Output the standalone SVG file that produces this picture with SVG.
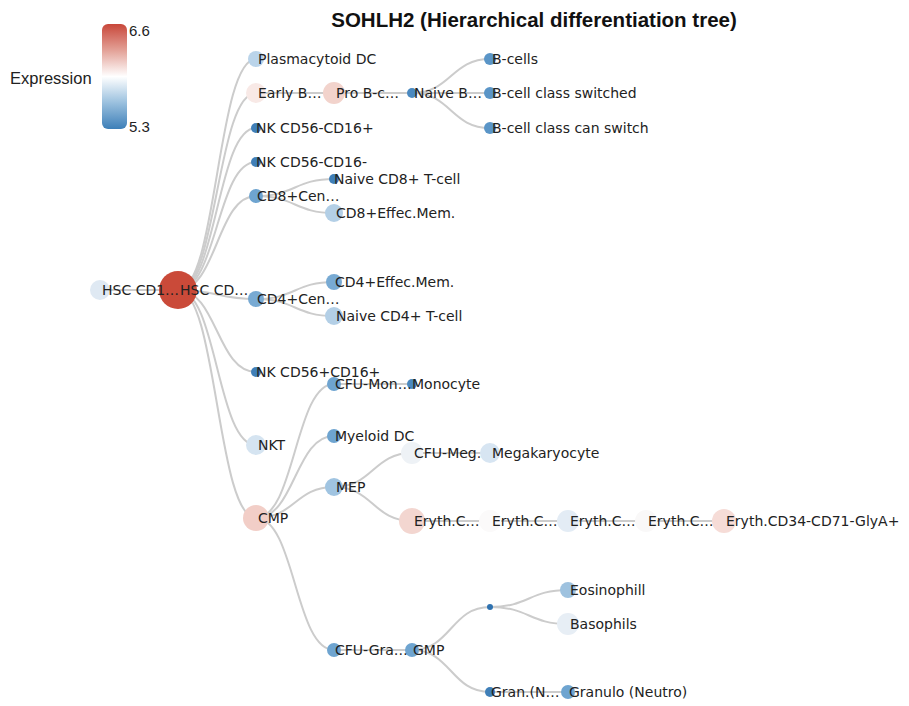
<svg xmlns="http://www.w3.org/2000/svg" width="909" height="706" viewBox="0 0 909 706">
<style>
.lk{fill:none;stroke:#cccccc;stroke-width:2}
.nd text{font-family:"DejaVu Sans",Verdana,sans-serif;font-size:14px;fill:#222}
.title{font-family:"Liberation Sans",Arial,sans-serif;font-weight:bold;font-size:20.5px;fill:#111}
.leg{font-family:"Liberation Sans",Arial,sans-serif;fill:#222}
</style>
<defs>
<linearGradient id="g" x1="0" y1="0" x2="0" y2="1">
<stop offset="0" stop-color="#c8473a"/>
<stop offset="0.25" stop-color="#e3a197"/>
<stop offset="0.5" stop-color="#ffffff"/>
<stop offset="0.75" stop-color="#9ac0de"/>
<stop offset="1" stop-color="#3d7fb8"/>
</linearGradient>
</defs>
<rect width="909" height="706" fill="#ffffff"/>
<text class="title" x="534" y="27" text-anchor="middle">SOHLH2 (Hierarchical differentiation tree)</text>
<g id="legend">
<text class="leg" x="10" y="84" font-size="16.5">Expression</text>
<rect x="102" y="24" width="25" height="105" rx="6" fill="url(#g)"/>
<text class="leg" x="129" y="36" font-size="15">6.6</text>
<text class="leg" x="129" y="132" font-size="15">5.3</text>
</g>
<g id="links">
<path class="lk" d="M100,290C139,290 139,290 178,290"/>
<path class="lk" d="M178,290C217,290 217,59 256,59"/>
<path class="lk" d="M178,290C217,290 217,93 256,93"/>
<path class="lk" d="M178,290C217,290 217,128 256,128"/>
<path class="lk" d="M178,290C217,290 217,162 256,162"/>
<path class="lk" d="M178,290C217,290 217,196 256,196"/>
<path class="lk" d="M178,290C217,290 217,299 256,299"/>
<path class="lk" d="M178,290C217,290 217,372 256,372"/>
<path class="lk" d="M178,290C217,290 217,445 256,445"/>
<path class="lk" d="M178,290C217,290 217,518 256,518"/>
<path class="lk" d="M256,93C295,93 295,93 334,93"/>
<path class="lk" d="M334,93C373,93 373,93 412,93"/>
<path class="lk" d="M412,93C451,93 451,59 490,59"/>
<path class="lk" d="M412,93C451,93 451,93 490,93"/>
<path class="lk" d="M412,93C451,93 451,128 490,128"/>
<path class="lk" d="M256,196C295,196 295,179 334,179"/>
<path class="lk" d="M256,196C295,196 295,213 334,213"/>
<path class="lk" d="M256,299C295,299 295,282 334,282"/>
<path class="lk" d="M256,299C295,299 295,316 334,316"/>
<path class="lk" d="M256,518C295,518 295,384 334,384"/>
<path class="lk" d="M256,518C295,518 295,436 334,436"/>
<path class="lk" d="M256,518C295,518 295,487 334,487"/>
<path class="lk" d="M256,518C295,518 295,650 334,650"/>
<path class="lk" d="M334,384C373,384 373,384 412,384"/>
<path class="lk" d="M334,487C373,487 373,453 412,453"/>
<path class="lk" d="M412,453C451,453 451,453 490,453"/>
<path class="lk" d="M334,487C373,487 373,521 412,521"/>
<path class="lk" d="M412,521C451,521 451,521 490,521"/>
<path class="lk" d="M490,521C529,521 529,521 568,521"/>
<path class="lk" d="M568,521C607,521 607,521 646,521"/>
<path class="lk" d="M646,521C685,521 685,521 724,521"/>
<path class="lk" d="M334,650C373,650 373,650 412,650"/>
<path class="lk" d="M412,650C451,650 451,607 490,607"/>
<path class="lk" d="M490,607C529,607 529,590 568,590"/>
<path class="lk" d="M490,607C529,607 529,624 568,624"/>
<path class="lk" d="M412,650C451,650 451,692 490,692"/>
<path class="lk" d="M490,692C529,692 529,692 568,692"/>
</g>
<g id="n-ery5" class="nd"><circle cx="724" cy="521" r="12" fill="#f6dcd7"/><text x="726" y="526">Eryth.CD34-CD71-GlyA+</text></g>
<g id="n-ery4" class="nd"><circle cx="646" cy="521" r="11" fill="#f9f8f8"/><text x="648" y="526">Eryth.C…</text></g>
<g id="n-ery3" class="nd"><circle cx="568" cy="521" r="11" fill="#e3ecf5"/><text x="570" y="526">Eryth.C…</text></g>
<g id="n-eos" class="nd"><circle cx="568" cy="590" r="8" fill="#9ec2df"/><text x="570" y="595">Eosinophill</text></g>
<g id="n-baso" class="nd"><circle cx="568" cy="624" r="11" fill="#e7eef5"/><text x="570" y="629">Basophils</text></g>
<g id="n-granulo" class="nd"><circle cx="568" cy="692" r="7" fill="#6ea4d0"/><text x="569" y="697">Granulo (Neutro)</text></g>
<g id="n-bcells" class="nd"><circle cx="490" cy="59" r="6" fill="#5a95c7"/><text x="492" y="64">B-cells</text></g>
<g id="n-bsw" class="nd"><circle cx="490" cy="93" r="6" fill="#5a95c7"/><text x="492" y="98">B-cell class switched</text></g>
<g id="n-bcan" class="nd"><circle cx="490" cy="128" r="6" fill="#5a95c7"/><text x="492" y="133">B-cell class can switch</text></g>
<g id="n-mega" class="nd"><circle cx="490" cy="453" r="10" fill="#d7e5f2"/><text x="492" y="458">Megakaryocyte</text></g>
<g id="n-ery2" class="nd"><circle cx="490" cy="521" r="11" fill="#fbfafa"/><text x="492" y="526">Eryth.C…</text></g>
<g id="n-unnamed" class="nd"><circle cx="490" cy="607" r="3" fill="#2f72b0"/></g>
<g id="n-grann" class="nd"><circle cx="490" cy="692" r="5" fill="#3f7fb8"/><text x="491" y="697">Gran.(N…</text></g>
<g id="n-naiveb" class="nd"><circle cx="412" cy="93" r="5" fill="#4a89c0"/><text x="414" y="98">Naive B…</text></g>
<g id="n-mono" class="nd"><circle cx="412" cy="384" r="5" fill="#4a89c0"/><text x="412" y="389">Monocyte</text></g>
<g id="n-cfumeg" class="nd"><circle cx="412" cy="453" r="11" fill="#eef2f6"/><text x="414" y="458">CFU-Meg.</text></g>
<g id="n-ery1" class="nd"><circle cx="412" cy="521" r="13" fill="#f3d6d0"/><text x="414" y="526">Eryth.C…</text></g>
<g id="n-gmp" class="nd"><circle cx="412" cy="650" r="7" fill="#6ea4d0"/><text x="413" y="655">GMP</text></g>
<g id="n-prob" class="nd"><circle cx="334" cy="93" r="11" fill="#f2d3cc"/><text x="336" y="98">Pro B-c…</text></g>
<g id="n-cd8n" class="nd"><circle cx="334" cy="179" r="5" fill="#3f7fb8"/><text x="334" y="184">Naive CD8+ T-cell</text></g>
<g id="n-cd8e" class="nd"><circle cx="334" cy="213" r="9" fill="#b3cfe6"/><text x="336" y="218">CD8+Effec.Mem.</text></g>
<g id="n-cd4e" class="nd"><circle cx="334" cy="282" r="8" fill="#78aad3"/><text x="335" y="287">CD4+Effec.Mem.</text></g>
<g id="n-cd4n" class="nd"><circle cx="334" cy="316" r="9" fill="#b3cfe6"/><text x="336" y="321">Naive CD4+ T-cell</text></g>
<g id="n-cfumon" class="nd"><circle cx="334" cy="384" r="7" fill="#6ea4d0"/><text x="335" y="389">CFU-Mon…</text></g>
<g id="n-mdc" class="nd"><circle cx="334" cy="436" r="7" fill="#6ea4d0"/><text x="335" y="441">Myeloid DC</text></g>
<g id="n-mep" class="nd"><circle cx="334" cy="487" r="9" fill="#a0c4e1"/><text x="336" y="492">MEP</text></g>
<g id="n-cfugra" class="nd"><circle cx="334" cy="650" r="7" fill="#6ea4d0"/><text x="335" y="655">CFU-Gra…</text></g>
<g id="n-pdc" class="nd"><circle cx="256" cy="59" r="8" fill="#bad4ea"/><text x="258" y="64">Plasmacytoid DC</text></g>
<g id="n-earlyb" class="nd"><circle cx="256" cy="93" r="10" fill="#f8e9e6"/><text x="258" y="98">Early B…</text></g>
<g id="n-nk1" class="nd"><circle cx="256" cy="128" r="5" fill="#3f7fb8"/><text x="256" y="133">NK CD56-CD16+</text></g>
<g id="n-nk2" class="nd"><circle cx="256" cy="162" r="5" fill="#3f7fb8"/><text x="256" y="167">NK CD56-CD16-</text></g>
<g id="n-cd8c" class="nd"><circle cx="256" cy="196" r="7" fill="#6ea4d0"/><text x="257" y="201">CD8+Cen…</text></g>
<g id="n-cd4c" class="nd"><circle cx="256" cy="299" r="8" fill="#78aad3"/><text x="257" y="304">CD4+Cen…</text></g>
<g id="n-nk3" class="nd"><circle cx="256" cy="372" r="5" fill="#3f7fb8"/><text x="256" y="377">NK CD56+CD16+</text></g>
<g id="n-nkt" class="nd"><circle cx="256" cy="445" r="10" fill="#d5e4f1"/><text x="258" y="450">NKT</text></g>
<g id="n-cmp" class="nd"><circle cx="256" cy="518" r="13" fill="#f2cec7"/><text x="258" y="523">CMP</text></g>
<g id="n-hsc1" class="nd"><circle cx="178" cy="290" r="19" fill="#ca4a39"/><text x="180" y="295">HSC CD…</text></g>
<g id="n-hsc0" class="nd"><circle cx="100" cy="290" r="10" fill="#dfe9f3"/><text x="102" y="295">HSC CD1…</text></g>
</svg>
